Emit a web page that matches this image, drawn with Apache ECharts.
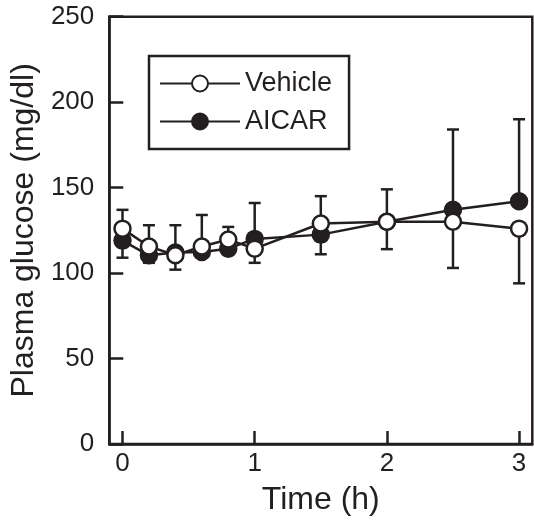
<!DOCTYPE html>
<html>
<head>
<meta charset="utf-8">
<script src="https://cdn.jsdelivr.net/npm/echarts@6/dist/echarts.min.js"></script>
<style>
html,body{margin:0;padding:0;background:#fff;}
#chart{width:534px;height:521px;}
</style>
</head>
<body>
<div id="chart"></div>
<script>
var times = [0, 0.2, 0.4, 0.6, 0.8, 1, 1.5, 2, 2.5, 3];
var vehicleMean = [126, 115.6, 110.4, 115.6, 119.6, 114.3, 129, 130, 130, 126];
var aicarMean = [119, 110.4, 112, 112.3, 114.3, 120, 122.5, 130, 137, 142];
var vehicleBarEnd = [137, 128, 128, 134, 127, 106, 145, 149, 103, 94];
var aicarBarEnd = [109, 106, 102, null, null, 141, 111, 114, 184, 190];
var xTickValues = [0, 1, 2, 3];
var seriesNames = ['Vehicle', 'AICAR'];

var INK = '#231f20';
var FONT = 'Liberation Sans, Arial, Helvetica, sans-serif';

function pairs(xs, ys) {
  return xs.map(function (x, i) { return [x, ys[i]]; });
}
function errData(xs, means, ends) {
  var out = [];
  for (var i = 0; i < xs.length; i++) {
    if (ends[i] !== null && ends[i] !== undefined) out.push([xs[i], means[i], ends[i]]);
  }
  return out;
}
function renderErr(params, api) {
  var x = api.value(0), m = api.value(1), e = api.value(2);
  var p0 = api.coord([x, m]);
  var p1 = api.coord([x, e]);
  return {
    type: 'group',
    children: [
      { type: 'line', shape: { x1: p0[0], y1: p0[1], x2: p1[0], y2: p1[1] }, style: { stroke: INK, lineWidth: 2.5 } },
      { type: 'line', shape: { x1: p1[0] - 6, y1: p1[1], x2: p1[0] + 6, y2: p1[1] }, style: { stroke: INK, lineWidth: 2.5 } }
    ]
  };
}

var chart = echarts.init(document.getElementById('chart'), null, { renderer: 'canvas' });
chart.setOption({
  animation: false,
  backgroundColor: '#fff',
  textStyle: { fontFamily: FONT, color: INK },
  grid: {
    left: 106.5, right: 1.7, top: 16.7, bottom: 77,
    show: true, borderColor: INK, borderWidth: 2.5, backgroundColor: 'transparent'
  },
  legend: {
    data: seriesNames,
    orient: 'vertical',
    left: 149, top: 56,
    padding: [14, 17, 14, 10],
    borderColor: INK, borderWidth: 2.5,
    itemWidth: 80, itemHeight: 20, itemGap: 11,
    textStyle: { fontFamily: FONT, fontSize: 27, color: INK, padding: [0, 0, 0, 0] },
    selectedMode: false
  },
  xAxis: {
    type: 'value', min: -0.1, max: 3.1,
    splitLine: { show: false },
    axisLine: { show: true, onZero: false, lineStyle: { color: INK, width: 2.5 } },
    axisTick: { show: true, inside: true, length: 13, customValues: xTickValues, lineStyle: { color: INK, width: 2.5 } },
    axisLabel: { customValues: xTickValues, margin: 7, fontSize: 26, fontFamily: FONT, color: INK },
    name: 'Time (h)', nameLocation: 'middle', nameGap: 40,
    nameTextStyle: { fontSize: 32, fontFamily: FONT, color: INK }
  },
  yAxis: {
    type: 'value', min: 0, max: 250, interval: 50,
    splitLine: { show: false },
    axisLine: { show: true, onZero: false, lineStyle: { color: INK, width: 2.5 } },
    axisTick: { show: true, inside: true, length: 14, lineStyle: { color: INK, width: 2.5 } },
    axisLabel: { margin: 15, fontSize: 26, fontFamily: FONT, color: INK },
    name: 'Plasma glucose (mg/dl)', nameLocation: 'middle', nameGap: 68,
    nameTextStyle: { fontSize: 32, fontFamily: FONT, color: INK }
  },
  series: [
    {
      type: 'custom', name: 'errA', z: 2, renderItem: renderErr,
      data: errData(times, aicarMean, aicarBarEnd), silent: true
    },
    {
      type: 'custom', name: 'errV', z: 2, renderItem: renderErr,
      data: errData(times, vehicleMean, vehicleBarEnd), silent: true
    },
    {
      type: 'line', name: 'AICAR', z: 3,
      data: pairs(times, aicarMean),
      symbol: 'circle', symbolSize: 16,
      lineStyle: { color: INK, width: 2.5 },
      itemStyle: { color: INK, borderColor: INK, borderWidth: 2.5 }
    },
    {
      type: 'line', name: 'Vehicle', z: 4,
      data: pairs(times, vehicleMean),
      symbol: 'circle', symbolSize: 16,
      lineStyle: { color: INK, width: 2.5 },
      itemStyle: { color: '#fff', borderColor: INK, borderWidth: 2.5 }
    }
  ]
});
</script>
</body>
</html>
